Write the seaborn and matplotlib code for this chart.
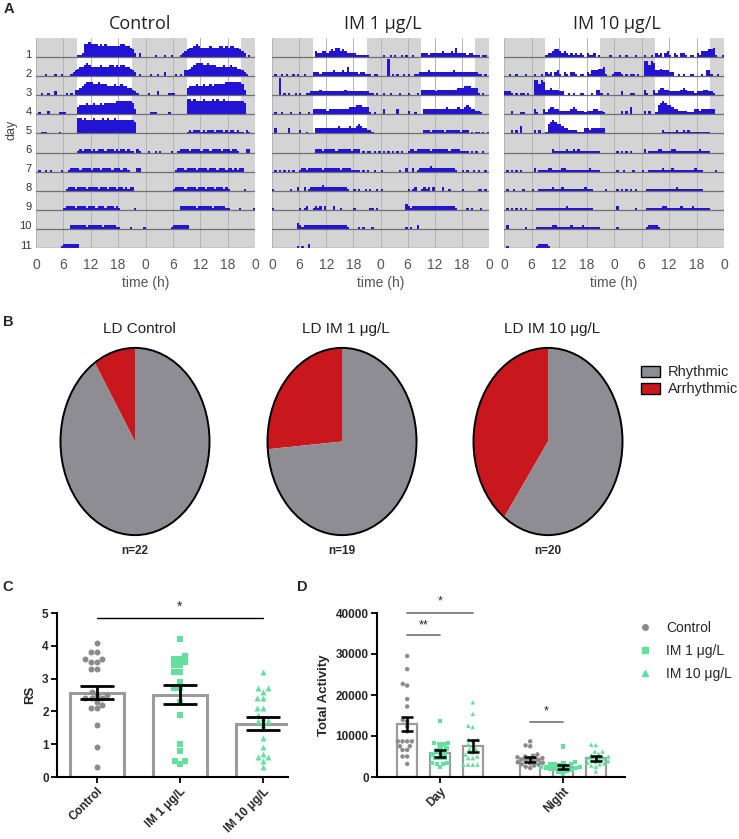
import matplotlib
matplotlib.use('Agg')
import matplotlib.pyplot as plt
from matplotlib import font_manager
from matplotlib.lines import Line2D
from matplotlib.patches import Patch, Circle
import numpy as np
import pandas as pd
import seaborn as sns

# ---------------- data ----------------
# A: activity per day, 48 half-hour bins, level 0-9 (tenths of a row)
control_days = [
    "000000000000000000" "112" "7787776767666666776654" "20200",
    "0000100010010001" "23" "4556765555655566565665543" "20100",
    "001001002000010103" "34567776676665556556554432" "1000",
    "010002000011100000" "45556556556566666777777763" "0000",
    "001110000010000000" "8878777877787877877777777" "6" "0000",
    "000000000000000000" "1212221212221222121221211" "02100",
    "01001010000100" "122221222212221222212221221" "000" "22" "00",
    "0000000000000" "1222122221222212221222122121" "22" "00000",
    "000000000000" "1222212222122212221222121" "000000" "1" "0000",
    "000000000000000" "2222222122222212222211" "0000" "1" "00000" "1",
    "00000000000" "12222222" "0000000000" "0000000000" "000000000",
]
im1_days = [
    "0000000000000000000" "3223323435534322221111110" "0000",
    "0100101001010010" "002" "2212222232223252222122111011" "0",
    "0009010100101001" "1222232222222222322222222221" "1010",
    "010010001000100010" "33333323333333334445554441" "0100",
    "0300000300002001000" "33333333334333343345433221" "000",
    "0000000000000000000" "22212222212222221222" "010110101",
    "010101010100" "122122222212222222122221111" "010100100",
    "1000000010020020" "122222322222222221" "00101001010010",
    "100000000000" "1012" "00" "1212" "0" "2" "000" "2" "00" "1" "00000" "1" "000000" "11" "0" "1" "0",
    "00000000000" "321" "2222222222" "222222222" "1" "00001010001000",
    "00000000000" "1" "0" "1" "00" "2" "0000000000" "0000000000" "00000000000",
]
im10_days = [
    "000000000000000000" "1" "22344323212121210211201" "000010",
    "001001000100010010" "21202310210221011021333445" "1001",
    "2221010110100" "88687" "33433322" "0010100110001033100100",
    "000200011000031003" "13443322222343222122233221" "0000",
    "000202040000020200" "15676554332222111332333333" "0000",
    "000000000000000000000" "211111211212111111111" "000000",
    "010101010000" "02" "0" "111122111122111111111121111" "000000",
    "010010001000100" "111111211121111111112111" "000001000",
    "01010101010000" "1111111111111211111111111" "000000000",
    "02000000010000" "1111111221111112111121111111" "000000",
    "0100000000000" "0" "122221" "0000000000" "0000000000" "00000000",
]
acto_titles = ['Control', 'IM 1 μg/L', 'IM 10 μg/L']
ld_days = 5
lights_on, lights_off = 9, 21
hour_ticks = [0, 6, 12, 18, 24, 30, 36, 42, 48]
hour_labels = ['0', '6', '12', '18', '0', '6', '12', '18', '0']

# B: rhythmicity counts
pie_titles = ['LD Control', 'LD IM 1 μg/L', 'LD IM 10 μg/L']
rhythmic = [20, 14, 12]
arrhythmic = [2, 5, 8]
n_labels = ['n=22', 'n=19', 'n=20']

# C: RS values
groups = ['Control', 'IM 1 μg/L', 'IM 10 μg/L']
rs_control = [4.1, 3.8, 3.8, 3.6, 3.6, 3.5, 3.5, 3.3, 3.3, 2.6, 2.5, 2.5,
              2.4, 2.4, 2.4, 2.3, 2.2, 2.1, 2.1, 1.6, 0.9, 0.3]
rs_im1 = [4.2, 3.7, 3.6, 3.6, 3.5, 3.4, 3.4, 3.2, 3.2, 2.9, 2.7, 2.7,
          2.3, 1.9, 1.0, 0.8, 0.5, 0.5, 0.4]
rs_im10 = [3.2, 2.7, 2.7, 2.6, 2.4, 2.4, 2.1, 2.1, 1.9, 1.8, 1.7, 1.7,
           1.6, 1.2, 0.9, 0.7, 0.6, 0.6, 0.5, 0.3]
rs_mean = [2.57, 2.51, 1.63]
rs_sem = [0.20, 0.29, 0.21]

# D: total activity
periods = ['Day', 'Night']
day_control = [29500, 26300, 22300, 22700, 19000, 17200, 13900, 13500, 8700, 8700,
               8700, 8700, 7500, 7500, 6600, 6600, 5000, 5000, 3200, 11100, 12300]
day_im1 = [13700, 8300, 8300, 8000, 8000, 7000, 7000, 6500, 6000, 5800,
           5500, 4600, 4600, 3400, 3400, 3200, 3200, 2400, 4800]
day_im10 = [18200, 15400, 12500, 12200, 9100, 9100, 8800, 6800, 6800, 6000,
            4600, 4600, 3000, 3000, 3000, 3000, 7600, 8000, 5000, 5500]
night_control = [8700, 7700, 7500, 5500, 5200, 5000, 4800, 4600, 4500, 4300, 4200,
                 4000, 3800, 3600, 3500, 3300, 3100, 3000, 2800, 2500, 2200]
night_im1 = [7400, 3600, 3400, 3200, 3000, 3000, 2800, 2600, 2500, 2400,
             2300, 2200, 2100, 2000, 1900, 1700, 1500, 1200, 900]
night_im10 = [7900, 7800, 6200, 6200, 5600, 5300, 5000, 4800, 4600, 4500,
              4300, 4100, 3900, 3700, 3500, 3300, 3100, 2800, 2500, 1400]
act_mean_day = [12900, 5800, 7600]
act_mean_night = [4300, 2500, 4600]
act_sem_day = [1800, 800, 1400]
act_sem_night = [600, 500, 600]

# ---------------- style ----------------
sns.set_style('white')
plt.rcParams['font.family'] = ['Liberation Sans', 'DejaVu Sans']
installed = {f.name for f in font_manager.fontManager.ttflist}
NARROW = 'Liberation Sans Narrow' if 'Liberation Sans Narrow' in installed else 'Liberation Sans'
TITLE_FONT = 'Open Sans' if 'Open Sans' in installed else 'Liberation Sans'

BLUE = '#2313d4'
PIE_GREY = '#8e8d93'
PIE_RED = '#c8171d'
PT_GREY = '#8b8b8b'
PT_GREEN = '#62e09d'
BAR_EDGE = '#9b9b9b'
markers = {'Control': 'o', 'IM 1 μg/L': 's', 'IM 10 μg/L': '^'}
pt_colors = {'Control': PT_GREY, 'IM 1 μg/L': PT_GREEN, 'IM 10 μg/L': PT_GREEN}

W, H = 739, 839
fig = plt.figure(figsize=(W / 100, H / 100), dpi=100)


def box(x0, y0, x1, y1):
    return [x0 / W, 1 - y1 / H, (x1 - x0) / W, (y1 - y0) / H]


def ftext(x, y, s, **kw):
    fig.text(x / W, 1 - y / H, s, **kw)


# ---------------- A: actograms ----------------
bin_edges = np.arange(49) * 0.5


def actogram(ax, days, show_days):
    n = len(days)
    ax.set_facecolor('#d4d4d4')
    for r in range(n):
        base = n - 1 - r
        for half, d in enumerate((r, r + 1)):
            off = 24 * half
            if d < ld_days:
                ax.fill_between([lights_on + off, lights_off + off], base, base + 1,
                                color='white', lw=0, zorder=0.2)
            if d < n:
                lev = np.array([int(c) for c in days[d].ljust(48, '0')[:48]]) / 10
                ax.stairs(lev + base, bin_edges + off, baseline=base, fill=True,
                          color=BLUE, lw=0, zorder=2)
        ax.axhline(base, color='#6f6f6f', lw=0.9, zorder=3)
    ax.set_xlim(0, 48)
    ax.set_ylim(0, n)
    ax.set_xticks(hour_ticks, hour_labels)
    ax.grid(True, axis='x', color='#b4b4b4', lw=0.7)
    ax.grid(False, axis='y')
    ax.set_axisbelow(True)
    for s in ax.spines.values():
        s.set_visible(False)
    ax.tick_params(axis='x', length=0, pad=7, labelsize=10, labelcolor='#555555')
    if show_days:
        ax.set_yticks([n - 1 - r + 0.18 for r in range(n)], [str(r + 1) for r in range(n)])
        ax.tick_params(axis='y', length=0, pad=3, labelsize=8, labelcolor='#333333')
    else:
        ax.set_yticks([])
    ax.set_xlabel('time (h)', fontsize=10, color='#555555', labelpad=3)


acto_boxes = [(36, 255), (272, 489), (504, 724)]
acto_title_x = [140, 383, 617]
for days, (x0, x1), title, tx, show in zip([control_days, im1_days, im10_days], acto_boxes,
                                           acto_titles, acto_title_x, [True, False, False]):
    ax = fig.add_axes(box(x0, 38, x1, 248))
    actogram(ax, days, show)
    ftext(tx, 24, title, ha='center', va='center', fontsize=13, color='#222222',
          family=[TITLE_FONT, 'DejaVu Sans'])
ftext(12, 130, 'day', rotation=90, ha='center', va='center', fontsize=9, color='#444444')

# ---------------- B: pies ----------------
pie_cx = [135, 342, 548]
for i, cx in enumerate(pie_cx):
    ax = fig.add_axes(box(cx - 76, 346, cx + 76, 537))
    ax.pie([arrhythmic[i], rhythmic[i]], colors=[PIE_RED, PIE_GREY], startangle=90,
           counterclock=True, wedgeprops=dict(linewidth=0))
    ax.add_patch(Circle((0, 0), 1, fill=False, ec='black', lw=1.4))
    ax.set_aspect('auto')
    ax.set_xlim(-1.02, 1.02)
    ax.set_ylim(-1.02, 1.02)
    ax.axis('off')
    ftext(cx + 4, 329, pie_titles[i], ha='center', va='center', fontsize=11,
          family=[NARROW, 'DejaVu Sans'], color='#222222')
    ftext(cx, 551, n_labels[i], ha='center', va='center', fontsize=8.5, fontweight='bold')

fig.legend(handles=[Patch(fc=PIE_GREY, ec='black', lw=1), Patch(fc=PIE_RED, ec='black', lw=1)],
           labels=['Rhythmic', 'Arrhythmic'], loc='upper left',
           bbox_to_anchor=(634 / W, 1 - 358 / H), frameon=False,
           prop={'family': NARROW, 'size': 10.5}, handlelength=1.3, handleheight=0.8,
           handletextpad=0.5, labelspacing=0.2, borderpad=0)

# ---------------- C: RS ----------------
axc = fig.add_axes(box(57, 613, 288, 777))
sns.barplot(x=groups, y=rs_mean, order=groups, width=0.65, color='white',
            edgecolor=BAR_EDGE, linewidth=2.2, errorbar=None, ax=axc, zorder=1)
rs_sets = {'Control': rs_control, 'IM 1 μg/L': rs_im1, 'IM 10 μg/L': rs_im10}
for g in groups:
    sns.swarmplot(x=[g] * len(rs_sets[g]), y=rs_sets[g], order=groups, color=pt_colors[g],
                  marker=markers[g], size=4.3, linewidth=0, ax=axc, zorder=3, warn_thresh=1)
xc = [p.get_x() + p.get_width() / 2 for p in sorted(axc.patches, key=lambda p: p.get_x())]
axc.errorbar(xc, rs_mean, yerr=rs_sem, fmt='none', ecolor='black', elinewidth=2,
             capsize=12, capthick=2, zorder=4)
axc.plot([xc[0], xc[2]], [4.84, 4.84], color='black', lw=1, clip_on=False)
axc.text(xc[1], 5.2, '*', ha='center', va='center', fontsize=10, clip_on=False)
axc.set_xlim(-0.48, 2.3)
axc.set_ylim(0, 5)
axc.set_yticks(range(6))
axc.set_ylabel('RS', fontsize=9.5, fontweight='bold', labelpad=4)
sns.despine(ax=axc)

# ---------------- D: total activity ----------------
axd = fig.add_axes(box(377, 613, 625, 777))
df_means = pd.DataFrame({
    'period': ['Day'] * 3 + ['Night'] * 3,
    'group': groups + groups,
    'activity': act_mean_day + act_mean_night,
})
sns.barplot(data=df_means, x='period', y='activity', hue='group', order=periods,
            hue_order=groups, palette={g: 'white' for g in groups}, width=0.8, gap=0.4,
            edgecolor=BAR_EDGE, linewidth=1.6, errorbar=None, legend=False, ax=axd, zorder=1)
pts = {('Day', 'Control'): day_control, ('Day', 'IM 1 μg/L'): day_im1,
       ('Day', 'IM 10 μg/L'): day_im10, ('Night', 'Control'): night_control,
       ('Night', 'IM 1 μg/L'): night_im1, ('Night', 'IM 10 μg/L'): night_im10}
df_pts = pd.DataFrame([(p, g, v) for (p, g), vals in pts.items() for v in vals],
                      columns=['period', 'group', 'activity'])
for g in groups:
    sns.swarmplot(data=df_pts[df_pts['group'] == g], x='period', y='activity', hue='group',
                  order=periods, hue_order=groups, palette=pt_colors, dodge=True,
                  marker=markers[g], size=3.2, linewidth=0, legend=False, ax=axd,
                  zorder=3, warn_thresh=1)
xd = [p.get_x() + p.get_width() / 2 for p in sorted(axd.patches, key=lambda p: p.get_x())]
axd.errorbar(xd, act_mean_day + act_mean_night, yerr=act_sem_day + act_sem_night, fmt='none',
             ecolor='black', elinewidth=1.8, capsize=4.5, capthick=1.8, zorder=4)
sig_color = '#7d7d7d'
axd.plot([xd[0], xd[2]], [40000, 40000], color=sig_color, lw=1.3, clip_on=False)
axd.text((xd[0] + xd[2]) / 2, 42800, '*', ha='center', va='center', fontsize=9, clip_on=False)
axd.plot([xd[0], xd[1]], [34600, 34600], color=sig_color, lw=1.3, clip_on=False)
axd.text((xd[0] + xd[1]) / 2, 37000, '**', ha='center', va='center', fontsize=9, clip_on=False)
axd.plot([xd[3], xd[4]], [13500, 13500], color=sig_color, lw=1.3, clip_on=False)
axd.text((xd[3] + xd[4]) / 2, 16100, '*', ha='center', va='center', fontsize=9, clip_on=False)
axd.set_xlim(-0.512, 1.504)
axd.set_ylim(0, 40000)
axd.set_yticks([0, 10000, 20000, 30000, 40000])
axd.set_ylabel('Total Activity', fontsize=9.5, fontweight='bold', labelpad=4)
axd.set_xlabel('')
sns.despine(ax=axd)

for ax in (axc, axd):
    for s in ('left', 'bottom'):
        ax.spines[s].set_linewidth(1.5)
        ax.spines[s].set_color('black')
    ax.tick_params(axis='both', direction='out', length=4, width=1.3, color='black',
                   labelsize=8.5, left=True, bottom=True, pad=2)
    for lab in ax.get_yticklabels():
        lab.set_fontweight('bold')
    for lab in ax.get_xticklabels():
        lab.set_fontweight('bold')
        lab.set_rotation(45)
        lab.set_ha('right')
        lab.set_rotation_mode('anchor')

fig.legend(handles=[Line2D([], [], marker=markers[g], ls='', color=pt_colors[g], ms=4)
                    for g in groups],
           labels=groups, loc='upper left', bbox_to_anchor=(630 / W, 1 - 614 / H),
           frameon=False, fontsize=10, handlelength=1.2, handletextpad=0.9,
           labelspacing=0.65, borderpad=0)

# panel letters
for letter, (x, y) in zip('ABCD', [(9, 9), (8, 322), (8, 587), (302, 587)]):
    ftext(x, y, letter, ha='center', va='center', fontsize=10.5, fontweight='bold')

fig.savefig('out.png', dpi=100)
